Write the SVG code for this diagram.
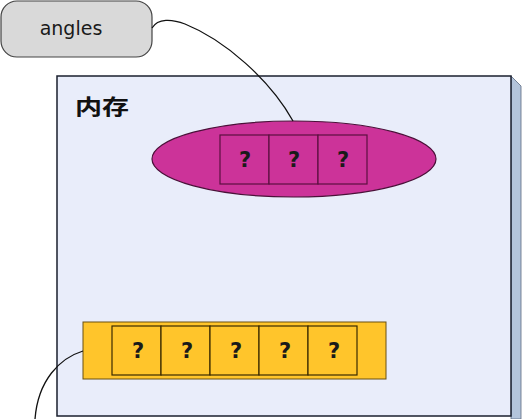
<svg xmlns="http://www.w3.org/2000/svg" width="523" height="419" viewBox="0 0 523 419">
<style>
.cell-m{fill:#cc3399;stroke:#5a1040;stroke-width:1.2}
.cell-y{fill:#ffc52b;stroke:#3a2a00;stroke-width:1.2}
.q{font-family:"DejaVu Sans","Liberation Sans",sans-serif;font-size:21px;font-weight:bold;fill:#1a1a1a;text-anchor:middle}
.conn{fill:none;stroke:#111;stroke-width:1.3}
</style>
<rect width="523" height="419" fill="#ffffff"/>
<g id="memory">
<polygon points="511,76 521,86 521,419 511,419" fill="#b3c4db" stroke="#5a6a80" stroke-width="0.8"/>
<rect x="57" y="76" width="454" height="340" fill="#e9edfa" stroke="#1a1f2e" stroke-width="1.5"/>
<text x="75" y="114" font-family="'Noto Sans CJK SC','Noto Sans',sans-serif" font-size="21" font-weight="bold" fill="#111" textLength="54" lengthAdjust="spacingAndGlyphs">内存</text>
</g>
<g id="angles">
<rect x="1" y="1" width="151" height="56" rx="16" ry="16" fill="#d9d9d9" stroke="#444" stroke-width="1.2"/>
<text x="71" y="35" font-family="'DejaVu Sans','Liberation Sans',sans-serif" font-size="19" fill="#1a1a1a" text-anchor="middle">angles</text>
</g>
<g id="array3">
<ellipse cx="294" cy="159" rx="142" ry="38" fill="#cc3399" stroke="#4a1038" stroke-width="1.2"/>
<rect class="cell-m" x="220" y="135" width="49" height="49"/>
<rect class="cell-m" x="269" y="135" width="49" height="49"/>
<rect class="cell-m" x="318" y="135" width="49" height="49"/>
<text class="q" x="245" y="167">?</text>
<text class="q" x="294" y="167">?</text>
<text class="q" x="343" y="167">?</text>
</g>
<g id="array5">
<rect x="83" y="322" width="303" height="57" fill="#ffc52b" stroke="#6a5010" stroke-width="1"/>
<rect class="cell-y" x="112" y="326" width="49" height="49"/>
<rect class="cell-y" x="161" y="326" width="49" height="49"/>
<rect class="cell-y" x="210" y="326" width="49" height="49"/>
<rect class="cell-y" x="259" y="326" width="49" height="49"/>
<rect class="cell-y" x="308" y="326" width="49" height="49"/>
<text class="q" x="138" y="358">?</text>
<text class="q" x="187" y="358">?</text>
<text class="q" x="236" y="358">?</text>
<text class="q" x="285" y="358">?</text>
<text class="q" x="334" y="358">?</text>
</g>
<g id="connectors">
<path class="conn" d="M152,28 C158,18 172,19 185,24 C225,40 270,80 293,121"/>
<path class="conn" d="M83,351 C60,358 38,380 35,419"/>
</g>
</svg>
